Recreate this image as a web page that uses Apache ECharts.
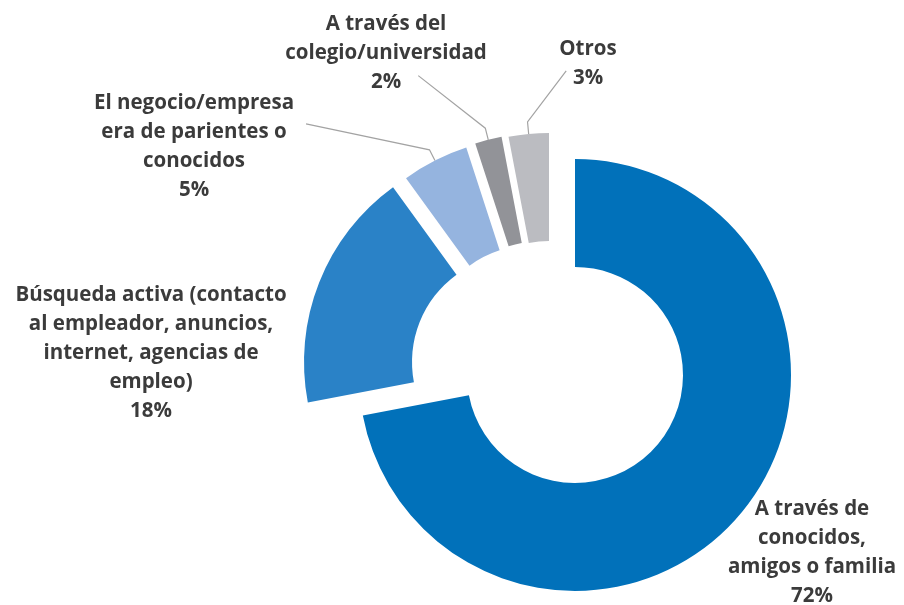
<!DOCTYPE html>
<html>
<head>
<meta charset="utf-8">
<script src="https://cdn.jsdelivr.net/npm/echarts@6/dist/echarts.min.js"></script>
<style>
  html, body { margin: 0; padding: 0; background: #fff; }
  #chart { width: 904px; height: 605px; }
</style>
</head>
<body>
<div id="chart"></div>
<script>
// data
const categories = [
  'A través de\nconocidos,\namigos o familia',
  'Búsqueda activa (contacto\nal empleador, anuncios,\ninternet, agencias de\nempleo)',
  'El negocio/empresa\nera de parientes o\nconocidos',
  'A través del\ncolegio/universidad',
  'Otros'
]
const values = [72, 18, 5, 2, 3]
const colors = ['#0171BA', '#2A82C7', '#95B4DF', '#929398', '#BBBCC1']

// layout: each piece of the exploded doughnut sits on its own centre
const sliceCenters = [[575, 375], [520, 362], [533, 353], [542, 349], [549, 349]]
const labelCenters = [[812, 553], [151, 353], [194, 147], [386, 53], [588, 64]]
// where the leader line meets the label box (fractions of its width/height)
const leaderEnds = [null, null, [1.06, 0.3], [0.66, 0.76], [0.12, 0.62]]

const chart = echarts.init(document.getElementById('chart'))

const series = categories.map((cat, k) => ({
  type: 'pie',
  center: sliceCenters[k],
  radius: [108, 216],
  startAngle: 90,
  clockwise: true,
  avoidLabelOverlap: false,
  silent: true,
  animation: false,
  emphasis: { disabled: true },
  label: {
    position: 'outside',
    formatter: '{b}\n{d}%',
    fontFamily: 'Open Sans',
    fontWeight: 'bold',
    fontSize: 20.5,
    lineHeight: 29,
    color: '#3b3b3b',
    align: 'center'
  },
  labelLine: {
    length: 12,
    length2: 10,
    lineStyle: { color: '#a3a3a3', width: 1.2 }
  },
  labelLayout: function (p) {
    if (p.dataIndex !== k) return
    const [cx, cy] = labelCenters[k]
    const out = { x: cx, y: cy, align: 'center', verticalAlign: 'middle' }
    const f = leaderEnds[k]
    if (f && p.labelLinePoints) {
      const w = p.labelRect.width
      const h = p.labelRect.height
      const end = [cx - w / 2 + f[0] * w, cy - h / 2 + f[1] * h]
      out.labelLinePoints = [p.labelLinePoints[0], p.labelLinePoints[1], end]
    }
    return out
  },
  data: categories.map((name, i) => ({
    name: name,
    value: values[i],
    itemStyle: { color: i === k ? colors[i] : 'rgba(0,0,0,0)' },
    label: { show: i === k },
    labelLine: { show: i === k && leaderEnds[k] != null }
  }))
}))

chart.setOption({
  backgroundColor: '#ffffff',
  series: series
})
</script>
</body>
</html>
